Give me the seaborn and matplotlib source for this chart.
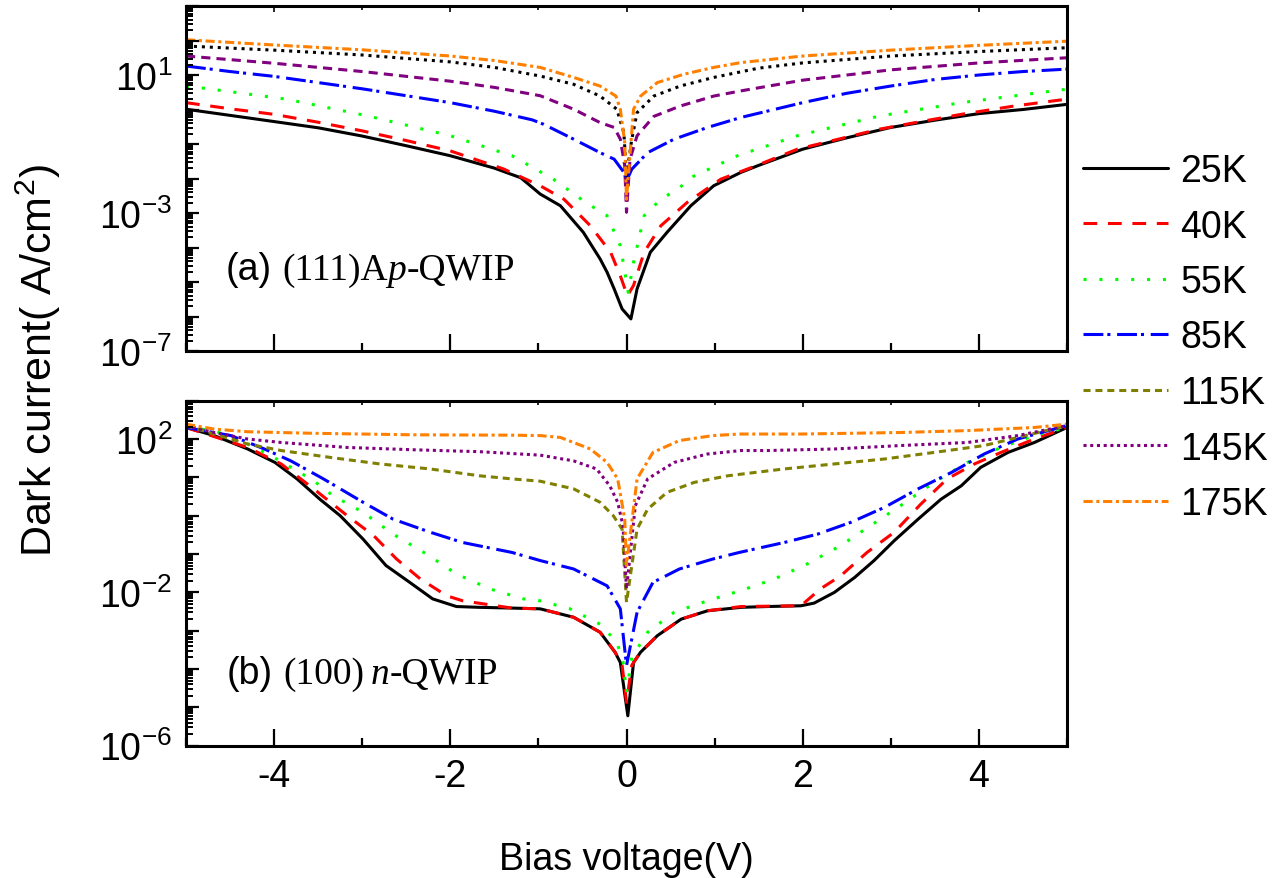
import matplotlib
matplotlib.use("Agg")
import matplotlib.pyplot as plt
import matplotlib.ticker as mticker
import seaborn as sns

# ---------------- data (A/cm^2 vs bias V) ----------------
temps = ["25K", "40K", "55K", "85K", "115K", "145K", "175K"]

# panel (a): (111)A p-QWIP
a25_x = [-5.0, -4.5, -4.0, -3.5, -3.0, -2.5, -2.0, -1.5, -1.2, -0.98, -0.75, -0.49, -0.30, -0.22, -0.14, -0.05,
         0.05, 0.12, 0.27, 0.46, 0.73, 0.99, 1.3, 1.5, 2.0, 2.5, 3.0, 3.5, 4.0, 4.5, 5.0]
a25_y = [1.02, 0.676, 0.447, 0.295, 0.170, 8.91e-2, 4.57e-2, 2.00e-2, 1.05e-2, 3.55e-3, 1.62e-3, 2.75e-4, 4.68e-5,
         1.91e-5, 6.31e-6, 1.66e-6, 8.51e-7, 6.31e-6, 7.24e-5, 2.75e-4, 1.62e-3, 6.17e-3, 1.51e-2, 2.40e-2, 7.08e-2,
         0.151, 0.302, 0.490, 0.759, 1.00, 1.41]
a40_x = [-5.0, -4.5, -4.0, -3.5, -3.0, -2.5, -2.0, -1.4, -0.98, -0.71, -0.41, -0.18, -0.07, 0.01, 0.08, 0.2, 0.39,
         0.69, 1.07, 1.47, 1.94, 2.5, 2.87, 3.3, 3.8, 4.4, 5.0]
a40_y = [1.58, 1.05, 0.724, 0.427, 0.240, 0.126, 6.31e-2, 1.91e-2, 6.17e-3, 2.51e-3, 4.27e-4, 7.24e-5, 1.51e-5,
         3.98e-6, 7.94e-6, 7.24e-5, 4.27e-4, 2.04e-3, 9.55e-3, 2.34e-2, 7.08e-2, 0.158, 0.269, 0.427, 0.724, 1.26, 2.00]
a55_x = [-5.0, -4.84, -3.86, -2.93, -2.0, -1.3, -0.83, -0.46, -0.22, -0.07, 0.02, 0.08, 0.2, 0.39, 0.58, 0.75, 1.26,
         1.94, 2.87, 3.8, 5.0]
a55_y = [4.57, 4.27, 2.00, 0.646, 0.174, 4.57e-2, 9.55e-3, 2.00e-3, 8.32e-4, 1.12e-4, 5.01e-6, 3.72e-5, 8.32e-4,
         2.51e-3, 4.90e-3, 1.12e-2, 4.57e-2, 0.174, 0.646, 1.58, 3.89]
a85_x = [-5.0, -4.5, -4.0, -3.5, -3.0, -2.5, -2.0, -1.5, -1.07, -0.94, -0.6, -0.3, -0.14, -0.03, 0.0, 0.06, 0.24,
         0.54, 0.92, 1.3, 2.0, 2.5, 3.0, 3.5, 4.0, 4.5, 5.0]
a85_y = [18.2, 12.6, 9.12, 6.03, 3.98, 2.51, 1.58, 0.891, 0.501, 0.372, 0.138, 5.62e-2, 3.63e-2, 1.51e-2, 8.51e-3,
         1.86e-2, 5.62e-2, 0.138, 0.302, 0.589, 1.58, 2.95, 4.79, 7.41, 10.0, 12.6, 14.8]
a115_x = [-5.0, -4.0, -3.0, -2.0, -1.5, -0.98, -0.6, -0.3, -0.14, -0.07, -0.02, 0.0, 0.04, 0.12, 0.31, 0.61, 0.99,
          1.3, 2.0, 3.0, 4.0, 5.0]
a115_y = [35.5, 21.9, 12.6, 6.61, 4.37, 2.51, 1.02, 0.417, 0.302, 0.138, 2.34e-2, 1.05e-3, 3.63e-2, 0.174, 0.631,
          1.26, 2.45, 3.47, 7.08, 14.1, 22.4, 31.6]
a145_x = [-5.0, -4.0, -3.0, -2.0, -1.5, -0.98, -0.6, -0.3, -0.11, -0.03, 0.0, 0.06, 0.12, 0.31, 0.61, 0.99, 1.5,
          2.0, 3.0, 4.0, 5.0]
a145_y = [69.2, 52.5, 38.0, 24.0, 16.6, 9.33, 5.37, 2.45, 1.02, 0.214, 1.17e-2, 0.138, 0.813, 2.45, 4.79, 8.51,
          15.8, 22.4, 35.5, 47.9, 61.7]
a175_x = [-5.0, -4.0, -3.0, -2.0, -1.5, -0.98, -0.6, -0.3, -0.12, -0.07, -0.02, 0.0, 0.08, 0.16, 0.35, 0.65, 0.99,
          1.3, 2.0, 3.0, 4.0, 5.0]
a175_y = [105, 74.1, 53.7, 35.5, 26.3, 16.6, 8.51, 4.79, 2.45, 1.02, 0.110, 2.51e-3, 1.02, 2.45, 6.03, 10.5, 16.6,
          22.9, 35.5, 52.5, 72.4, 95.5]

# panel (b): (100) n-QWIP
b25_x = [-5.0, -4.68, -4.30, -3.99, -3.74, -3.48, -3.25, -2.99, -2.73, -2.46, -2.2, -1.93, -1.67, -1.3, -0.98,
         -0.6, -0.3, -0.13, -0.07, 0.015, 0.08, 0.16, 0.35, 0.62, 0.92, 1.3, 1.6, 1.98, 2.13, 2.36, 2.59, 2.81, 3.04,
         3.31, 3.57, 3.8, 4.02, 4.33, 4.63, 5.0]
b25_y = [200, 123, 55.0, 24.5, 9.12, 2.69, 1.00, 0.245, 5.01e-2, 1.82e-2, 6.76e-3, 4.27e-3, 4.07e-3, 3.89e-3,
         3.72e-3, 2.24e-3, 9.12e-4, 2.75e-4, 1.48e-4, 6.03e-6, 1.48e-4, 2.75e-4, 7.41e-4, 2.00e-3, 3.31e-3, 4.07e-3,
         4.27e-3, 4.47e-3, 5.25e-3, 1.00e-2, 2.45e-2, 6.76e-2, 0.224, 0.813, 2.69, 6.03, 18.2, 44.7, 81.3, 200]
b40_x = [-5.0, -4.3, -3.92, -3.55, -3.17, -2.87, -2.61, -2.34, -2.04, -1.86, -1.3, -0.98, -0.6, -0.3, -0.13, -0.05,
         0.0, 0.06, 0.16, 0.35, 0.62, 0.92, 1.3, 1.98, 2.2, 2.43, 2.73, 3.04, 3.34, 3.64, 3.95, 4.25, 4.63, 5.0]
b40_y = [200, 60.3, 22.4, 5.01, 1.00, 0.302, 7.41e-2, 2.24e-2, 8.13e-3, 6.03e-3, 3.89e-3, 3.72e-3, 2.24e-3,
         9.12e-4, 2.75e-4, 1.26e-4, 1.35e-5, 1.26e-4, 2.75e-4, 7.41e-4, 2.00e-3, 3.31e-3, 4.27e-3, 4.47e-3, 1.23e-2,
         2.69e-2, 0.110, 0.372, 2.00, 9.12, 22.4, 44.7, 100, 200]
b55_x = [-5.0, -4.68, -4.3, -4.04, -3.74, -3.55, -3.33, -2.99, -2.65, -2.27, -1.93, -1.55, -1.17, -0.98, -0.64,
         -0.30, -0.11, -0.04, 0.0, 0.06, 0.24, 0.54, 0.92, 1.3, 1.68, 2.05, 2.43, 2.77, 3.11, 3.49, 3.87, 4.25, 4.63,
         5.0]
b55_y = [200, 166, 74.1, 37.2, 14.8, 8.13, 3.31, 1.23, 0.331, 0.100, 3.02e-2, 1.23e-2, 6.76e-3, 6.03e-3, 3.72e-3,
         1.48e-3, 5.01e-4, 1.58e-4, 2.45e-5, 2.00e-4, 9.12e-4, 3.02e-3, 6.03e-3, 1.12e-2, 2.24e-2, 5.50e-2, 0.166,
         0.550, 1.82, 7.41, 24.5, 60.3, 123, 200]
b85_x = [-5.0, -4.49, -4.11, -3.81, -3.44, -2.99, -2.65, -2.23, -1.86, -1.3, -0.98, -0.6, -0.22, -0.07, 0.0, 0.12,
         0.3, 0.6, 0.98, 1.28, 1.79, 2.17, 2.55, 2.93, 3.31, 3.69, 4.06, 4.44, 5.0]
b85_y = [200, 123, 55.0, 26.9, 9.12, 2.24, 0.813, 0.372, 0.200, 0.110, 6.76e-2, 4.07e-2, 1.48e-2, 3.72e-3, 1.23e-4,
         3.02e-3, 1.82e-2, 4.07e-2, 7.41e-2, 0.110, 0.200, 0.331, 0.676, 1.66, 5.01, 13.5, 40.7, 100, 224]
b115_x = [-5.0, -4.68, -4.3, -3.92, -3.36, -2.8, -2.23, -1.67, -1.3, -0.98, -0.6, -0.30, -0.15, -0.05, 0.0, 0.12,
          0.24, 0.46, 0.77, 1.15, 1.79, 2.36, 2.93, 3.49, 4.06, 4.44, 5.0]
b115_y = [224, 135, 74.1, 50.1, 33.1, 22.4, 16.6, 11.0, 9.12, 7.94, 5.01, 2.24, 1.00, 0.447, 5.50e-3, 0.447, 1.48,
          4.07, 7.41, 11.0, 16.6, 22.4, 30.2, 44.7, 67.6, 110, 224]
b145_x = [-5.0, -4.68, -4.3, -3.92, -3.17, -2.42, -1.67, -0.98, -0.6, -0.34, -0.19, -0.1, -0.04, 0.0, 0.1, 0.24,
          0.54, 0.92, 1.3, 1.6, 2.36, 3.11, 3.87, 4.44, 5.0]
b145_y = [224, 148, 100, 81.3, 60.3, 52.5, 46.8, 38.0, 26.9, 16.6, 6.03, 2.24, 0.550, 1.23e-2, 1.82, 9.12, 24.5,
          40.7, 50.1, 50.1, 55.0, 67.6, 81.3, 123, 224]
b175_x = [-5.0, -4.68, -4.3, -3.55, -2.42, -1.3, -0.98, -0.75, -0.41, -0.22, -0.1, -0.02, 0.0, 0.12, 0.3, 0.6,
          0.98, 1.28, 1.98, 3.11, 3.87, 4.63, 5.0]
b175_y = [245, 182, 155, 141, 129, 126, 123, 110, 55.0, 24.5, 9.12, 0.813, 5.01e-2, 9.12, 44.7, 91.2, 123, 135,
          135, 148, 166, 200, 245]

x_ticks = [-4, -2, 0, 2, 4]
ya_labeled = [-7, -3, 1]
yb_labeled = [-6, -2, 2]

# ---------------- style ----------------
sns.set_style("white")
plt.rcParams["font.family"] = ["Liberation Sans", "DejaVu Sans"]
plt.rcParams["mathtext.default"] = "regular"
plt.rcParams["axes.unicode_minus"] = False
plt.rcParams["axes.axisbelow"] = False
for k in ["text.color", "axes.labelcolor", "xtick.color", "ytick.color", "axes.edgecolor"]:
    plt.rcParams[k] = "black"

LW = 2.2
style_b = {
    "25K": ("#000000", None),
    "40K": ("#ff0000", (4.5, 3.5)),
    "55K": ("#00ff00", (1.0, 4.2)),
    "85K": ("#0000ff", (6.5, 1.3, 1.0, 2.2)),
    "115K": ("#808000", (2.3, 1.6)),
    "145K": ("#800080", (1.0, 1.2)),
    "175K": ("#ff8000", (3.0, 1.2, 1.0, 1.2)),
}
style_a = dict(style_b)
style_a["115K"] = ("#800080", (3.0, 2.0))
style_a["145K"] = ("#000000", (1.0, 1.6))

W_PX, H_PX = 1276, 879
fig = plt.figure(figsize=(W_PX / 100, H_PX / 100), dpi=100)
left = 186 / W_PX
width = 881 / W_PX
ax_a = fig.add_axes([left, 1 - 352 / H_PX, width, 345 / H_PX])
ax_b = fig.add_axes([left, 1 - 746.7 / H_PX, width, 345 / H_PX])

series_a = [(a25_x, a25_y), (a40_x, a40_y), (a55_x, a55_y), (a85_x, a85_y),
            (a115_x, a115_y), (a145_x, a145_y), (a175_x, a175_y)]
series_b = [(b25_x, b25_y), (b40_x, b40_y), (b55_x, b55_y), (b85_x, b85_y),
            (b115_x, b115_y), (b145_x, b145_y), (b175_x, b175_y)]


def draw(ax, series, styles):
    for t, (xs, ys) in zip(temps, series):
        col, dash = styles[t]
        sns.lineplot(x=xs, y=ys, ax=ax, color=col, lw=LW, estimator=None, sort=False,
                     legend=False, label=t)
        ln = ax.lines[-1]
        if dash is not None:
            ln.set_dashes(dash)
        ln.set_dash_capstyle("butt")
        ln.set_solid_joinstyle("round")


draw(ax_a, series_a, style_a)
draw(ax_b, series_b, style_b)


def fmt_factory(labeled):
    def f(v, pos):
        import math
        if v <= 0:
            return ""
        e = int(round(math.log10(v)))
        if abs(math.log10(v) - e) > 1e-6 or e not in labeled:
            return ""
        return r"$\mathregular{10^{%d}}$" % e
    return f


for ax, (elo, ehi), labeled in [(ax_a, (-7, 3), ya_labeled), (ax_b, (-6, 3), yb_labeled)]:
    ax.set_yscale("log")
    ax.set_ylim(10.0 ** elo, 10.0 ** ehi)
    ax.set_xlim(-5, 5)
    ax.set_xlabel("")
    ax.set_ylabel("")
    majors = [10.0 ** e for e in range(elo, ehi + 1)]
    minors = [m * 10.0 ** e for e in range(elo, ehi) for m in range(2, 10)]
    ax.yaxis.set_major_locator(mticker.FixedLocator(majors))
    ax.yaxis.set_minor_locator(mticker.FixedLocator(minors))
    ax.yaxis.set_major_formatter(mticker.FuncFormatter(fmt_factory(labeled)))
    ax.yaxis.set_minor_formatter(mticker.NullFormatter())
    ax.set_xticks(x_ticks)
    ax.xaxis.set_minor_locator(mticker.MultipleLocator(1))
    ax.tick_params(axis="y", which="major", direction="in", length=9, width=1.6, labelsize=27, pad=10,
                   colors="black", left=True, right=False)
    ax.tick_params(axis="y", which="minor", direction="in", length=5, width=1.4, colors="black",
                   left=True, right=False)
    ax.tick_params(axis="x", which="major", direction="in", length=12, width=1.6, labelsize=27, pad=9,
                   colors="black", bottom=True, top=False)
    ax.tick_params(axis="x", which="minor", direction="in", length=6, width=1.6, colors="black",
                   bottom=True, top=False)
    for sp in ax.spines.values():
        sp.set_visible(True)
        sp.set_color("black")
        sp.set_linewidth(2.2)
    sec = ax.secondary_xaxis("top")
    sec.set_xticks(x_ticks)
    sec.xaxis.set_minor_locator(mticker.MultipleLocator(1))
    sec.tick_params(which="both", top=True, direction="in", labeltop=False, colors="black")
    sec.tick_params(which="major", length=4, width=1.2)
    sec.tick_params(which="minor", length=3, width=1.2)
    sec.spines["top"].set_visible(False)

ax_a.tick_params(axis="x", labelbottom=False)

# axis labels
fig.text(38 / W_PX, 1 - 361 / H_PX, r"Dark current( A/cm$^{2}$)", rotation=90,
         ha="center", va="center", fontsize=31, color="black")
fig.text(626.5 / W_PX, 1 - 870 / H_PX, "Bias voltage(V)", ha="center", va="baseline", fontsize=27,
         color="black")

# panel annotations (mixed fonts)
fig.canvas.draw()
renderer = fig.canvas.get_renderer()


def chain(x_px, base_px, parts):
    x = x_px
    for s, kw, gap in parts:
        x += gap
        t = fig.text(x / W_PX, 1 - base_px / H_PX, s, ha="left", va="baseline", color="black", **kw)
        bb = t.get_window_extent(renderer)
        x = bb.x1


sans = dict(family="Liberation Sans", fontsize=27)
serif = dict(family="Liberation Serif", fontsize=27)
serif_it = dict(family="Liberation Serif", fontsize=27, style="italic")
chain(226, 280, [("(a)", sans, 0), ("(111)A", serif, 10), ("p", serif_it, 0), ("-QWIP", serif, 0)])
chain(227, 684, [("(b)", sans, 0), ("(100)", serif, 10), ("n", serif_it, 7), ("-QWIP", serif, 0)])

# legend
handles = ax_b.lines[:7]
fig.legend(handles, temps, loc="upper left", bbox_to_anchor=(1083 / W_PX, 1 - 154 / H_PX),
           frameon=False, fontsize=27, handlelength=2.27, handletextpad=0.32, labelspacing=0.52,
           borderpad=0, borderaxespad=0, labelcolor="black")

fig.savefig("out.png", dpi=100)
